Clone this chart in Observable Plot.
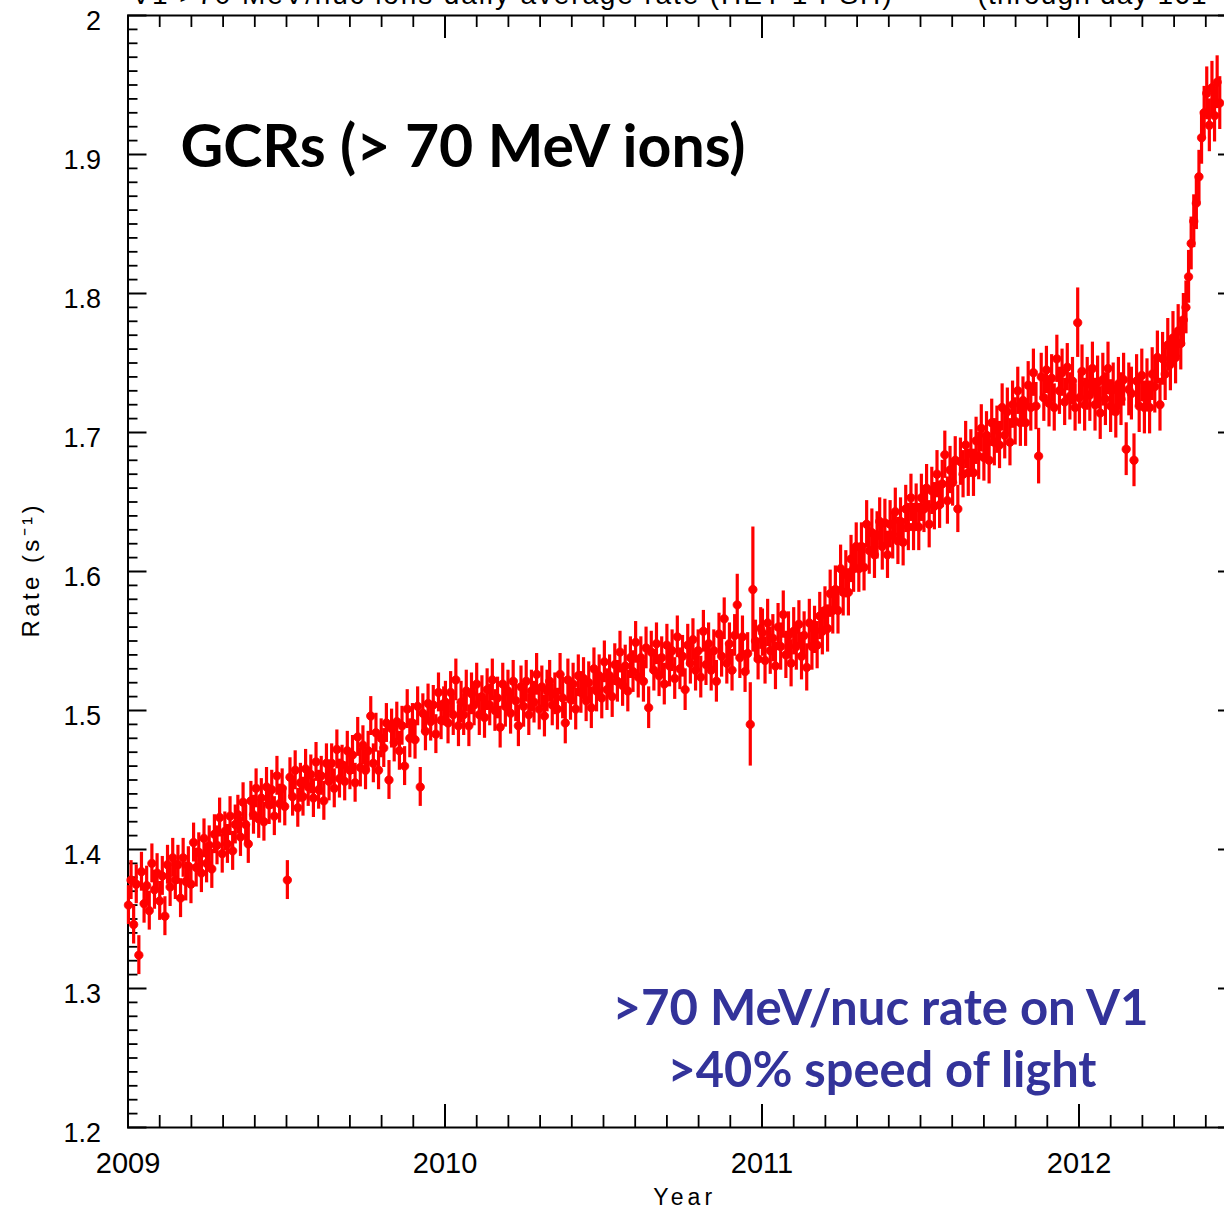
<!DOCTYPE html>
<html><head><meta charset="utf-8">
<script src="https://cdn.jsdelivr.net/npm/d3@7"></script>
<script src="https://cdn.jsdelivr.net/npm/@observablehq/plot@0.6"></script>
<style>
body{margin:0;background:#fff}
#wrap{width:1224px;height:1210px;overflow:hidden;position:relative;background:#fff}
</style>
</head><body><div id="wrap"></div>
<script>
// Daily-average >70 MeV/nuc ion rate (s^-1), read every 3rd day from the figure
const rate2009 = [
1.360,1.378,1.346,1.375,1.324,1.384,1.361,1.374,1.356,1.390,
1.371,1.383,1.363,1.381,1.352,1.389,1.373,1.394,1.378,1.389,
1.365,1.394,1.377,1.388,1.375,1.405,1.387,1.398,1.383,1.408,
1.390,1.403,1.386,1.411,1.403,1.423,1.397,1.413,1.404,1.424,
1.399,1.418,1.425,1.409,1.434,1.418,1.404,1.435,1.425,1.444,
1.422,1.437,1.420,1.445,1.432,1.443,1.424,1.453,1.433,1.444,
1.431,1.378,1.452,1.438,1.457,1.430,1.448,1.438,1.458,1.445,
1.454,1.437,1.463,1.443,1.453,1.435,1.462,1.449,1.462,1.444,
1.472,1.451,1.461,1.449,1.471,1.457,1.468,1.448,1.481,1.459,
1.475,1.457,1.471,1.496,1.462,1.484,1.457,1.480,1.473,1.491,
1.450,1.487,1.477,1.492,1.471,1.489,1.460,1.501,1.480,1.491,
1.479,1.503,1.445,1.498,1.485,1.505,1.492,1.504,1.483,1.513,
1.493,1.503];
const rate2010 = [
1.506,1.491,1.513,1.497,1.522,1.489,1.506,1.497,1.514,1.489,
1.512,1.504,1.519,1.497,1.510,1.495,1.515,1.504,1.522,1.500,
1.509,1.488,1.519,1.503,1.514,1.498,1.521,1.507,1.489,1.517,
1.503,1.521,1.497,1.514,1.506,1.526,1.501,1.517,1.496,1.514,
1.521,1.504,1.512,1.501,1.526,1.509,1.491,1.522,1.508,1.519,
1.501,1.525,1.513,1.523,1.507,1.520,1.502,1.530,1.514,1.525,
1.509,1.535,1.515,1.525,1.510,1.533,1.521,1.542,1.518,1.532,
1.514,1.538,1.528,1.549,1.524,1.538,1.521,1.545,1.502,1.542,
1.529,1.548,1.525,1.538,1.519,1.547,1.532,1.543,1.523,1.553,
1.530,1.539,1.515,1.547,1.534,1.551,1.529,1.543,1.524,1.557,
1.533,1.548,1.529,1.543,1.521,1.555,1.539,1.566,1.534,1.548,
1.529,1.554,1.576,1.538,1.553,1.528,1.541,1.490,1.587,1.550,
1.537,1.559];
const rate2011 = [
1.556,1.536,1.563,1.543,1.552,1.532,1.560,1.546,1.569,1.540,
1.554,1.534,1.557,1.546,1.562,1.539,1.554,1.531,1.563,1.546,
1.558,1.547,1.568,1.557,1.572,1.559,1.584,1.572,1.587,1.572,
1.602,1.585,1.598,1.585,1.609,1.602,1.618,1.602,1.618,1.603,
1.634,1.615,1.628,1.612,1.626,1.636,1.618,1.635,1.612,1.634,
1.626,1.643,1.622,1.636,1.621,1.645,1.632,1.653,1.632,1.646,
1.632,1.653,1.645,1.660,1.634,1.658,1.647,1.670,1.648,1.663,
1.684,1.651,1.673,1.664,1.680,1.645,1.679,1.670,1.691,1.671,
1.685,1.671,1.694,1.683,1.703,1.682,1.698,1.680,1.707,1.693,
1.702,1.691,1.718,1.698,1.715,1.693,1.720,1.708,1.730,1.707,
1.723,1.707,1.734,1.718,1.743,1.719,1.683,1.740,1.725,1.745,
1.721,1.739,1.718,1.753,1.730,1.743,1.722,1.747,1.726,1.737,
1.718,1.779];
const rate2012 = [
1.725,1.744,1.720,1.735,1.727,1.746,1.720,1.736,1.714,1.738,
1.724,1.746,1.719,1.731,1.715,1.735,1.724,1.738,1.688,1.731,
1.728,1.680,1.737,1.719,1.741,1.718,1.734,1.718,1.742,1.733,
1.754,1.720,1.753,1.742,1.763,1.749,1.768,1.754,1.773,1.764,
1.781,1.790,1.812,1.836,1.852,1.865,1.884,1.912,1.930,1.944,
1.921,1.948,1.928,1.952,1.937];

const years = [2009, 2010, 2011, 2012];
const ratesByYear = [rate2009, rate2010, rate2011, rate2012];
const daysInYear = [365, 365, 365, 366];
const errByYear = [0.014, 0.015, 0.017, 0.019];   // typical 1-sigma bar
const sampleStepDays = 3;
// [year, sample index, error] for points with unusually long bars
const errOverrides = [[2010,112,0.022],[2010,117,0.030],[2010,118,0.045],[2011,121,0.025],[2011,106,0.020]];

const xTickLabels = ["2009", "2010", "2011", "2012"];
const xMajorTicks = [2009, 2010, 2011, 2012];
const yMajorTicks = [1.2, 1.3, 1.4, 1.5, 1.6, 1.7, 1.8, 1.9, 2.0];
const yTickLabels = ["1.2", "1.3", "1.4", "1.5", "1.6", "1.7", "1.8", "1.9", "2"];
const titleLeft = "V1 >70 MeV/nuc ions daily average rate (HET 1 PSH)";
const titleRight = "(through day 161";
const headline = "GCRs (> 70 MeV ions)";
const note1 = ">70 MeV/nuc rate on V1";
const note2 = ">40% speed of light";
const yLabel = "Rate (s\u207B\u00B9)";
const xLabel = "Year";

// build table
const rows = [];
ratesByYear.forEach((arr, yi) => {
  arr.forEach((v, k) => {
    const day = 1 + sampleStepDays * k;
    const ov = errOverrides.find(o => o[0] === years[yi] && o[1] === k);
    rows.push({t: years[yi] + (day - 0.5) / daysInYear[yi], v, e: ov ? ov[2] : errByYear[yi]});
  });
});

const xMinorTicks = d3.range(1, 35).filter(i => i % 10 !== 0).map(i => 2009 + i / 10);
const yMinorTicks = d3.range(1, 80).filter(i => i % 10 !== 0).map(i => 1.2 + i / 100);

const W = 1240, H = 1210, mL = 127.5, mR = 3, mT = 15, mB = 83;
const innerW = W - mL - mR, innerH = H - mT - mB;
const red = "#ff0000", blue = "#33339a";

const svg = Plot.plot({
  width: W, height: H,
  marginLeft: mL, marginRight: mR, marginTop: mT, marginBottom: mB,
  x: {domain: [2009, 2012.5], axis: null},
  y: {domain: [1.2, 2.0], axis: null},
  style: {background: "white", fontFamily: "'Liberation Sans', Arial, sans-serif", maxWidth: "none", overflow: "hidden"},
  marks: [
    // ticks (inward, all four sides)
    Plot.tickX(xMinorTicks, {x: d => d, insetTop: innerH - 12, stroke: "black", strokeWidth: 1.8}),
    Plot.tickX(xMinorTicks, {x: d => d, insetBottom: innerH - 12, stroke: "black", strokeWidth: 1.8}),
    Plot.tickX(xMajorTicks, {x: d => d, insetTop: innerH - 23, stroke: "black", strokeWidth: 2}),
    Plot.tickX(xMajorTicks, {x: d => d, insetBottom: innerH - 23, stroke: "black", strokeWidth: 2}),
    Plot.tickY(yMinorTicks, {y: d => d, insetRight: innerW - 10, stroke: "black", strokeWidth: 1.8}),
    Plot.tickY(yMinorTicks, {y: d => d, insetLeft: innerW - 10, stroke: "black", strokeWidth: 1.8}),
    Plot.tickY(yMajorTicks, {y: d => d, insetRight: innerW - 19, stroke: "black", strokeWidth: 2}),
    Plot.tickY(yMajorTicks, {y: d => d, insetLeft: innerW - 19, stroke: "black", strokeWidth: 2}),
    Plot.frame({stroke: "black", strokeWidth: 2}),
    // tick labels
    Plot.text(xMajorTicks, {x: d => d, text: (d, i) => xTickLabels[i], frameAnchor: "bottom", lineAnchor: "middle", dy: 36, fontSize: 29, fill: "black"}),
    Plot.text(yMajorTicks, {y: d => d, text: (d, i) => yTickLabels[i], frameAnchor: "left", textAnchor: "end", lineAnchor: "middle", dx: -27, dy: 6, fontSize: 27, fill: "black"}),
    // axis labels
    Plot.text([xLabel], {text: d => d, frameAnchor: "bottom", textAnchor: "middle", lineAnchor: "middle", dy: 70, fontSize: 23, fill: "black"}),
    Plot.text([yLabel], {text: d => d, frameAnchor: "left", textAnchor: "middle", lineAnchor: "middle", dx: -97, rotate: -90, fontSize: 24, fill: "black"}),
    // clipped title on top
    Plot.text([titleLeft], {text: d => d, frameAnchor: "top-left", dx: 3.5, dy: -20, textAnchor: "start", lineAnchor: "middle", fontSize: 28, fill: "black"}),
    Plot.text([titleRight], {text: d => d, frameAnchor: "top-left", dx: 977 - mL, dy: -20, textAnchor: "start", lineAnchor: "middle", fontSize: 28, fill: "black"}),
    // data: error bars and points
    Plot.ruleX(rows, {x: "t", y1: d => d.v - d.e, y2: d => d.v + d.e, stroke: red, strokeWidth: 3.2}),
    Plot.dot(rows, {x: "t", y: "v", r: 4.2, fill: red, stroke: red, strokeWidth: 0.8}),
    // annotations
    Plot.text([headline], {text: d => d, frameAnchor: "top-left", dx: 52.5, dy: 132, textAnchor: "start", lineAnchor: "middle", fontSize: 60, fontWeight: "bold", fontFamily: "Lato", fill: "black"}),
    Plot.text([note1], {text: d => d, frameAnchor: "top-left", dx: 752.5, dy: 994, textAnchor: "middle", lineAnchor: "middle", fontSize: 49, fontWeight: "bold", fontFamily: "Lato", fill: blue}),
    Plot.text([note2], {text: d => d, frameAnchor: "top-left", dx: 754, dy: 1056, textAnchor: "middle", lineAnchor: "middle", fontSize: 49, fontWeight: "bold", fontFamily: "Lato", fill: blue})
  ]
});

const fit = new Map([
  [titleLeft, [760, "spacing"]],
  [titleRight, [229, "spacing"]],
  [headline, [565, "spacingAndGlyphs"]],
  [note1, [536, "spacingAndGlyphs"]],
  [note2, [429, "spacingAndGlyphs"]],
  [yLabel, [132, "spacing"]],
  [xLabel, [59, "spacing"]]
]);
d3.select(svg).selectAll("text").each(function() {
  const f = fit.get(this.textContent);
  if (f) { this.setAttribute("textLength", f[0]); this.setAttribute("lengthAdjust", f[1]); }
});

document.getElementById("wrap").appendChild(svg);
</script>
</body></html>
